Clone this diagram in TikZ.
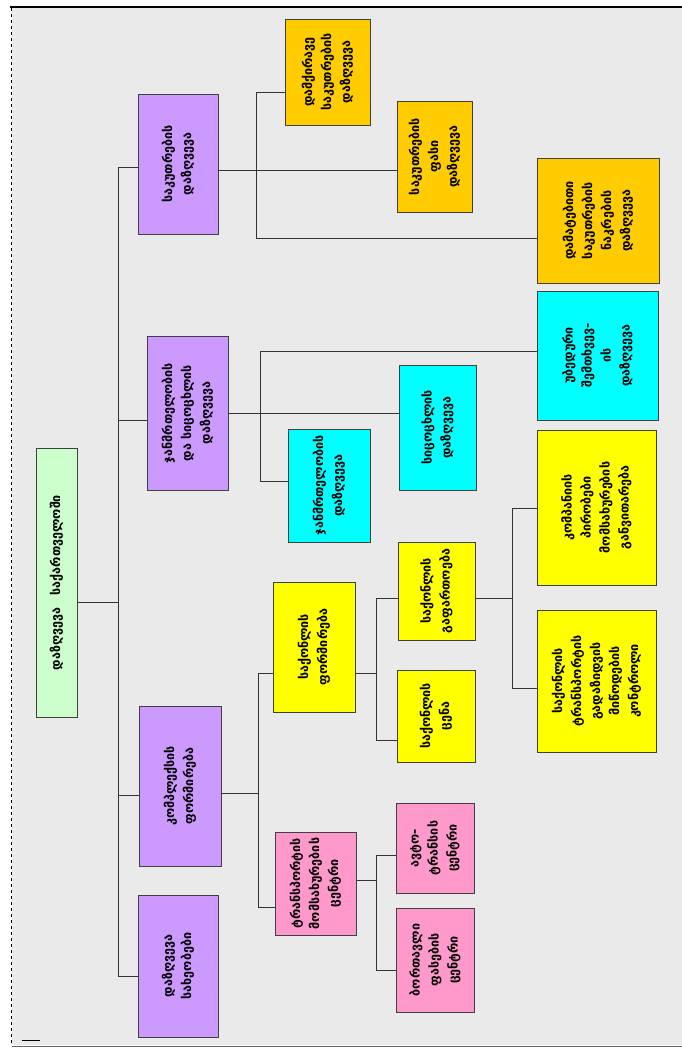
\documentclass[tikz,border=0pt]{standalone}
\usepackage{fontspec}
\newfontfamily\geo{DejaVu Sans}
\usetikzlibrary{fit}
\definecolor{bgc}{HTML}{EAEAEA}
\definecolor{cpur}{HTML}{CC99FF}
\definecolor{cgrn}{HTML}{CCFFCC}
\definecolor{corg}{HTML}{FFCC00}
\definecolor{ccyn}{HTML}{00FFFF}
\definecolor{cyel}{HTML}{FFFF00}
\definecolor{cpnk}{HTML}{FF99CC}
\tikzset{
  box/.style={draw=black!75, line width=0.9pt, inner sep=0pt},
  lbl/.style={rotate=90, align=center, font=\geo\bfseries\fontsize{12.5}{19}\selectfont, inner sep=0pt},
  con/.style={draw=black!80, line width=0.7pt}
}
\newcommand\bx[7]{%
  \node[box, fill=#6, fit={(#2,#3)(#4,#5)}] (#1) {};
  \node[lbl] (#1t) at (#1.center) {#7};
}
\begin{document}
\begin{tikzpicture}[x=1pt,y=-1pt]
\useasboundingbox (0,0) rectangle (682,1050);
\fill[bgc] (12,8) rectangle (682,1045);
\draw[line width=2.5pt] (10,7) -- (682,7);
\draw[dashed, line width=0.6pt] (11,8) -- (11,1045);
\draw[black!60, line width=1pt] (12,1046) -- (682,1046);
\draw[line width=1pt] (22,1040) -- (40,1040);
% boxes
\bx{R}{36}{448}{77}{717}{cgrn}{დაზღვევა\quad საქართველოში}
\bx{P1}{138}{94}{218}{234}{cpur}{საკუთრების\\დაზღვევა}
\bx{P2}{147}{336}{228}{490}{cpur}{ჯანმრთელობის\\და სიცოცხლის\\დაზღვევა}
\bx{P3}{139}{706}{221}{866}{cpur}{კომპლექსის\\ფორმირება}
\bx{P4}{138}{895}{218}{1037}{cpur}{დაზღვევა\\სახეობები}
\bx{O1}{285}{19}{370}{125}{corg}{დამქირავე\\საკუთრების\\დაზღვევა}
\bx{O2}{397}{101}{472}{212}{corg}{საკუთრების\\ფასი\\დაზღვევა}
\bx{O3}{537}{158}{659}{283}{corg}{დამატებითი\\საკუთრების\\ნაკრების\\დაზღვევა}
\bx{C1}{288}{429}{370}{542}{ccyn}{ჯანმრთელობის\\დაზღვევა}
\bx{C2}{399}{365}{476}{490}{ccyn}{სიცოცხლის\\დაზღვევა}
\bx{C3}{537}{291}{658}{420}{ccyn}{უბედური\\შემთხვევ-\\ის\\დაზღვევა}
\bx{Y1}{273}{582}{355}{712}{cyel}{საქონლის\\ფორმირება}
\bx{Y2}{398}{542}{475}{640}{cyel}{საქონლის\\გაფართოება}
\bx{Y3}{397}{670}{475}{762}{cyel}{საქონლის\\ცენა}
\bx{Y4}{537}{430}{656}{585}{cyel}{კომპანიის\\პირობები\\მომსახურების\\განვითარება}
\bx{Y5}{537}{610}{656}{752}{cyel}{საქონლის\\ტრანსპორტის\\გადაზიდვის\\მიწოდების\\კონტროლი}
\bx{K1}{275}{832}{356}{935}{cpnk}{ტრანსპორტის\\მომსახურების\\ცენტრი}
\bx{K2}{396}{803}{474}{893}{cpnk}{ავტო-\\ტრანსის\\ცენტრი}
\bx{K3}{396}{908}{474}{1012}{cpnk}{ბორთავლი\\ფასების\\ცენტრი}
% connectors
\path[con] (R.east |- 0,602) -- (118,602);
\path[con] (118,167) -- (118,976);
\path[con] (118,167) -- (P1.west |- 0,167);
\path[con] (118,420) -- (P2.west |- 0,420);
\path[con] (118,795) -- (P3.west |- 0,795);
\path[con] (118,976) -- (P4.west |- 0,976);
\path[con] (P1.east |- 0,170) -- (O2.west |- 0,170);
\path[con] (256,92) -- (256,238);
\path[con] (256,92) -- (O1.west |- 0,92);
\path[con] (256,238) -- (O3.west |- 0,238);
\path[con] (P2.east |- 0,413) -- (C2.west |- 0,413);
\path[con] (260,351) -- (260,481);
\path[con] (260,351) -- (C3.west |- 0,351);
\path[con] (260,481) -- (C1.west |- 0,481);
\path[con] (P3.east |- 0,793) -- (258,793);
\path[con] (258,673) -- (258,907);
\path[con] (258,673) -- (Y1.west |- 0,673);
\path[con] (258,907) -- (K1.west |- 0,907);
\path[con] (Y1.east |- 0,673) -- (376,673);
\path[con] (376,598) -- (376,740);
\path[con] (376,598) -- (Y2.west |- 0,598);
\path[con] (376,740) -- (Y3.west |- 0,740);
\path[con] (Y2.east |- 0,598) -- (512,598);
\path[con] (512,508) -- (512,688);
\path[con] (512,508) -- (Y4.west |- 0,508);
\path[con] (512,688) -- (Y5.west |- 0,688);
\path[con] (K1.east |- 0,880) -- (376,880);
\path[con] (376,855) -- (376,970);
\path[con] (376,855) -- (K2.west |- 0,855);
\path[con] (376,970) -- (K3.west |- 0,970);
\end{tikzpicture}
\end{document}
